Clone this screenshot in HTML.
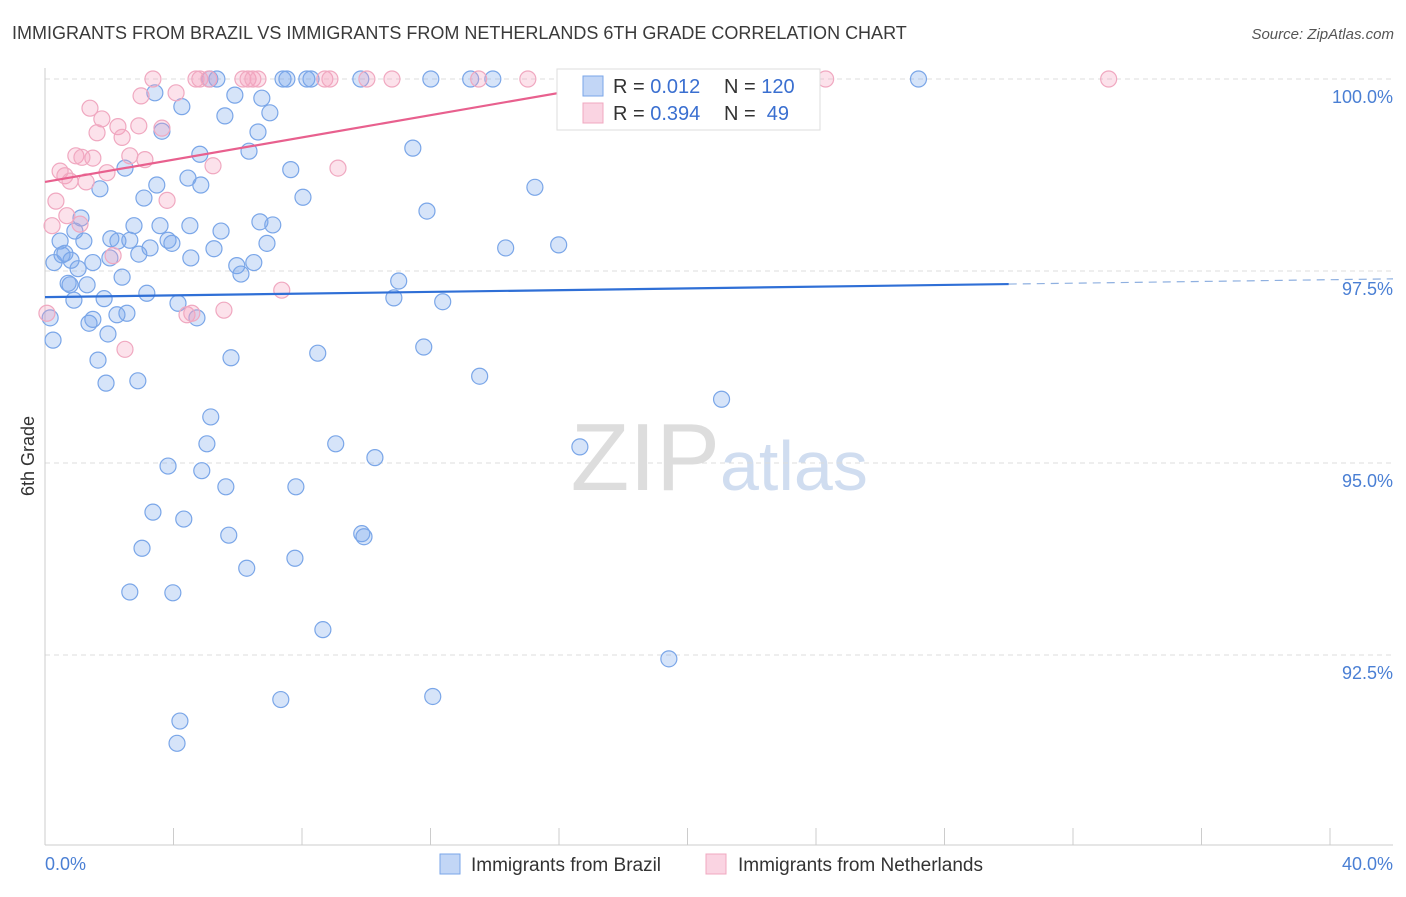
<!DOCTYPE html>
<html><head><meta charset="utf-8"><style>
body{margin:0;background:#fff;font-family:"Liberation Sans",sans-serif;}
svg text{font-family:"Liberation Sans",sans-serif;}
</style></head><body>
<svg id="chart" width="1406" height="892">
<text x="12" y="39" font-size="18" fill="#3a3a3a">IMMIGRANTS FROM BRAZIL VS IMMIGRANTS FROM NETHERLANDS 6TH GRADE CORRELATION CHART</text>
<text x="1394" y="39" font-size="15" fill="#555" font-style="italic" text-anchor="end">Source: ZipAtlas.com</text>
<text x="34" y="456" font-size="18" fill="#333" text-anchor="middle" transform="rotate(-90 34 456)">6th Grade</text>
<text x="720" y="490" font-size="96" fill="#ddd" text-anchor="end" font-family="Liberation Serif">ZIP</text>
<text x="720" y="490" font-size="70" fill="#d0ddf0">atlas</text>
<g id="grid"></g><g id="axes"></g><g id="pts"></g><g id="lines"></g>
<g>
<rect x="557" y="69" width="263" height="61" fill="#fff" stroke="#ddd"/>
<rect x="583" y="76" width="20" height="20" fill="rgba(120,165,235,0.45)" stroke="#7aa6e8"/>
<rect x="583" y="103" width="20" height="20" fill="rgba(245,160,190,0.45)" stroke="#f0a8c0"/>
<text x="613" y="93" font-size="20" fill="#333">R = <tspan fill="#3a6fd0">0.012</tspan></text>
<text x="724" y="93" font-size="20" fill="#333">N = <tspan fill="#3a6fd0">120</tspan></text>
<text x="613" y="120" font-size="20" fill="#333">R = <tspan fill="#3a6fd0">0.394</tspan></text>
<text x="724" y="120" font-size="20" fill="#333">N = <tspan fill="#3a6fd0">&#160;49</tspan></text>
</g>
<g>
<rect x="440" y="854" width="20" height="20" fill="rgba(120,165,235,0.45)" stroke="#7aa6e8"/>
<text x="471" y="871" font-size="19" fill="#333">Immigrants from Brazil</text>
<rect x="706" y="854" width="20" height="20" fill="rgba(245,160,190,0.45)" stroke="#f0a8c0"/>
<text x="738" y="871" font-size="19" fill="#333">Immigrants from Netherlands</text>
</g>
</svg>
<script>
const yTicks=[92.5,95,97.5,100];
const yTickLabels=["92.5%","95.0%","97.5%","100.0%"];
const xTicks=[0,4,8,12,16,20,24,28,32,36,40];
const brazilX=[3.42,5.13,5.35,5.91,6.75,7.41,7.53,8.15,8.28,9.83,12.01,13.25,13.94,16.24,27.19,4.26,5.60,7.00,3.64,6.63,4.82,6.35,11.45,2.49,7.65,4.45,4.85,3.48,1.71,15.25,8.03,3.08,11.89,1.12,2.77,3.58,4.51,6.69,7.09,5.48,0.93,0.47,1.21,2.05,2.27,2.64,3.83,3.95,6.91,5.26,3.27,0.62,0.28,1.49,1.03,2.92,4.54,6.50,5.97,14.34,15.99,6.10,2.40,11.01,0.72,1.31,0.78,3.17,1.84,0.90,10.86,12.38,4.14,4.73,2.55,2.24,1.49,1.37,0.16,1.96,0.25,11.79,8.49,5.79,1.65,13.53,1.90,2.89,21.06,5.16,5.04,9.05,16.65,10.27,3.83,4.88,5.63,7.81,3.36,4.32,9.86,9.93,5.72,3.02,7.78,6.28,2.64,3.98,8.65,19.42,12.07,7.34,4.20,4.11,0.81,0.53,2.02];
const brazilY=[99.82,100,100,99.79,99.75,100,100,100,100,100,100,100,100,100,100,99.64,99.52,99.56,99.32,99.31,99.02,99.06,99.10,98.84,98.82,98.71,98.62,98.62,98.57,98.59,98.46,98.45,98.28,98.19,98.09,98.09,98.09,98.14,98.10,98.02,98.02,97.89,97.89,97.92,97.89,97.90,97.90,97.86,97.86,97.79,97.80,97.73,97.61,97.61,97.53,97.72,97.67,97.61,97.57,97.80,97.84,97.46,97.42,97.37,97.34,97.32,97.32,97.21,97.14,97.12,97.15,97.10,97.08,96.89,96.95,96.93,96.87,96.82,96.89,96.68,96.60,96.51,96.43,96.37,96.34,96.13,96.04,96.07,95.83,95.60,95.25,95.25,95.21,95.07,94.96,94.90,94.69,94.69,94.36,94.27,94.08,94.04,94.06,93.89,93.76,93.63,93.32,93.31,92.83,92.45,91.96,91.92,91.64,91.35,97.64,97.71,97.67];
const nethX=[3.36,4.70,4.82,5.10,6.16,6.32,6.47,6.63,8.71,8.87,10.02,10.80,13.50,15.03,24.30,33.11,4.08,2.99,1.40,1.77,2.27,1.62,2.92,2.40,3.64,3.11,2.64,0.96,1.49,1.15,0.47,0.62,0.78,1.93,1.28,5.23,9.12,0.34,3.80,0.68,1.09,0.22,2.12,7.37,5.57,4.42,4.57,2.49,0.06];
const nethY=[100,100,100,100,100,100,100,100,100,100,100,100,100,100,100,100,99.82,99.78,99.62,99.48,99.38,99.30,99.39,99.24,99.36,98.95,99.00,99.00,98.97,98.98,98.80,98.74,98.67,98.78,98.66,98.87,98.84,98.41,98.42,98.22,98.11,98.09,97.70,97.25,96.99,96.93,96.95,96.48,96.95];
const brazilLine=[97.16,97.33];
const nethLine=[98.66,100];
const NS="http://www.w3.org/2000/svg";
const X0=45,X1=1330,Y100=79,PXY=76.8;
const sx=v=>X0+(X1-X0)*v/40;
const sy=v=>Y100+(100-v)*PXY;
function mk(tag,attrs,parent){const e=document.createElementNS(NS,tag);for(const k in attrs)e.setAttribute(k,attrs[k]);parent.appendChild(e);return e;}
const grid=document.getElementById('grid'),axes=document.getElementById('axes'),pts=document.getElementById('pts'),lines=document.getElementById('lines');
yTicks.forEach((t,i)=>{
 const l=mk('line',{x1:45,x2:1393,y1:sy(t),y2:sy(t),stroke:'#ddd','stroke-dasharray':'5,4'},grid);
 
 
 const tx=mk('text',{x:1393,y:sy(t)+24,'font-size':18,fill:'#4a7fd4','text-anchor':'end'},axes);
 tx.textContent=yTickLabels[i];
 
 
});
const ya=mk('line',{x1:45,x2:45,y1:68,y2:845,stroke:'#ccc'},axes);


const xa=mk('line',{x1:45,x2:1393,y1:845,y2:845,stroke:'#ccc'},axes);


xTicks.forEach(t=>{
 const l=mk('line',{x1:sx(t),x2:sx(t),y1:828,y2:845,stroke:'#ccc'},axes);
 
 
});
const xl0=mk('text',{x:45,y:870,'font-size':18,fill:'#4a7fd4'},axes);xl0.textContent='0.0%';


const xl1=mk('text',{x:1393,y:870,'font-size':18,fill:'#4a7fd4','text-anchor':'end'},axes);xl1.textContent='40.0%';


brazilX.forEach((v,i)=>{
 const c=mk('circle',{cx:sx(v),cy:sy(brazilY[i]),r:8,fill:'rgba(120,165,235,0.3)',stroke:'#7aa6e8','stroke-width':1.2},pts);
 
 
});
nethX.forEach((v,i)=>{
 const c=mk('circle',{cx:sx(v),cy:sy(nethY[i]),r:8,fill:'rgba(245,160,190,0.3)',stroke:'#f0a8c0','stroke-width':1.2},pts);
 
 
});
const bslope=(brazilLine[1]-brazilLine[0])/30;
const bl=mk('line',{x1:sx(0),y1:sy(brazilLine[0]),x2:sx(30),y2:sy(brazilLine[1]),stroke:'#2f6fd6','stroke-width':2.2},lines);


const bd=mk('line',{x1:sx(30),y1:sy(brazilLine[1]),x2:1393,y2:sy(brazilLine[0]+bslope*41.94),stroke:'#8fb0e0','stroke-width':1.2,'stroke-dasharray':'8,6'},lines);


const nl=mk('line',{x1:sx(0),y1:sy(nethLine[0]),x2:sx(18.5),y2:sy(nethLine[1]),stroke:'#e8608e','stroke-width':2.2},lines);


</script>
</body></html>
